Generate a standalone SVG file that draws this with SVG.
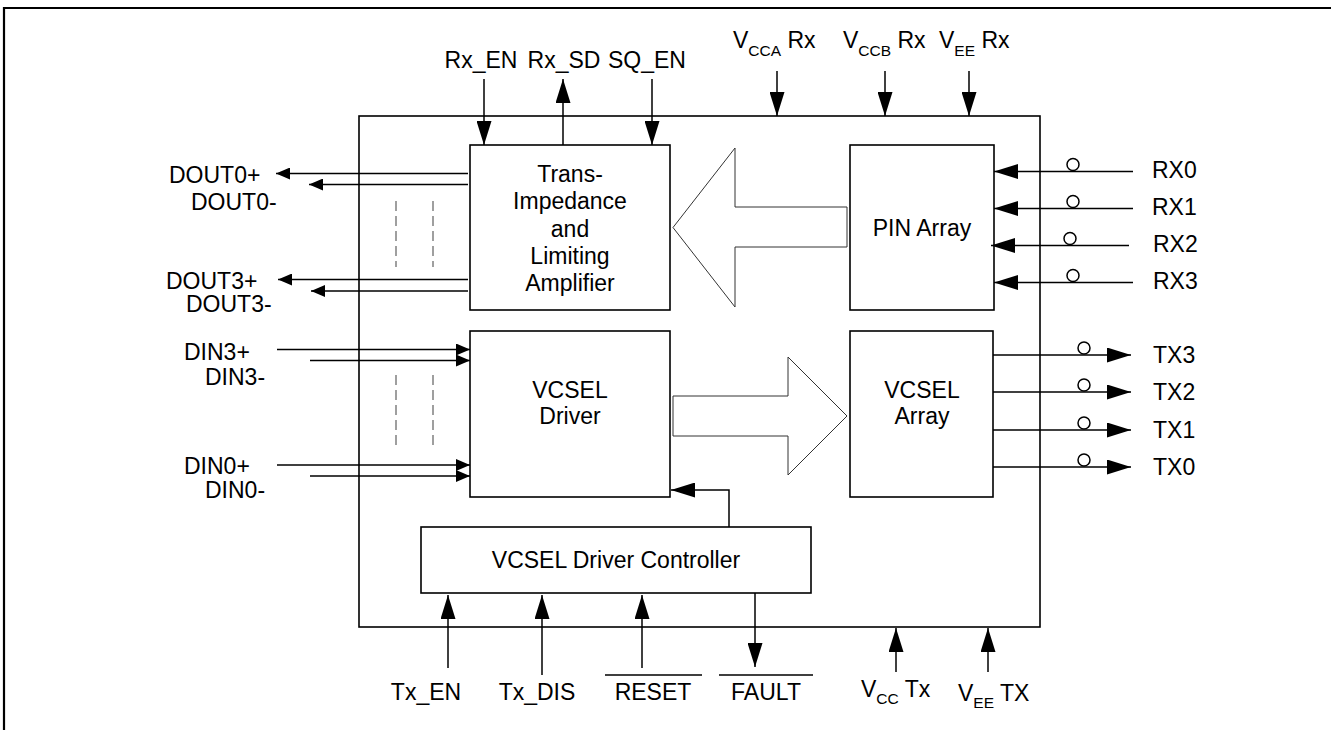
<svg xmlns="http://www.w3.org/2000/svg" width="1331" height="730" viewBox="0 0 1331 730">
<style>
text{font-family:"Liberation Sans",Arial,sans-serif;font-size:23px;fill:#000}
.box{fill:#fff;stroke:#000;stroke-width:1.6}
.ln{stroke:#000;stroke-width:1.5;fill:none}
.big{marker-end:url(#ah)}
.sm{marker-end:url(#as)}
.dash{stroke:#808080;stroke-width:1.5;stroke-dasharray:10 5;fill:none}
.hollow{fill:#fff;stroke:#333;stroke-width:1}
.circ{fill:#fff;stroke:#000;stroke-width:1.5}
.sub{font-size:15.5px}
.c{text-anchor:middle}
</style>
<defs>
<marker id="ah" markerWidth="24" markerHeight="15" refX="24" refY="7.5" orient="auto" markerUnits="userSpaceOnUse"><path d="M0,0 L24,7.5 L0,15 Z" fill="#000"/></marker>
<marker id="as" markerWidth="14" markerHeight="12" refX="14" refY="6" orient="auto" markerUnits="userSpaceOnUse"><path d="M0,0 L14,6 L0,12 Z" fill="#000"/></marker>
</defs>
<rect width="1331" height="730" fill="#fff"/>
<path d="M4,730 V8 H1331" fill="none" stroke="#000" stroke-width="2.2"/>

<g id="chip"><rect class="box" x="359" y="116" width="681" height="511"/></g>

<g id="tia">
<rect class="box" x="470" y="145" width="200" height="165"/>
<text class="c" x="570" y="182">Trans-</text>
<text class="c" x="570" y="209">Impedance</text>
<text class="c" x="570" y="237">and</text>
<text class="c" x="570" y="264">Limiting</text>
<text class="c" x="570" y="291">Amplifier</text>
</g>
<g id="pin">
<rect class="box" x="850" y="145" width="144" height="165"/>
<text class="c" x="922" y="236">PIN Array</text>
</g>
<g id="driver">
<rect class="box" x="470" y="331" width="200" height="166"/>
<text class="c" x="570" y="398">VCSEL</text>
<text class="c" x="570" y="424">Driver</text>
</g>
<g id="varray">
<rect class="box" x="850" y="331" width="143" height="166"/>
<text class="c" x="922" y="398">VCSEL</text>
<text class="c" x="922" y="424">Array</text>
</g>
<g id="controller">
<rect class="box" x="421" y="527" width="390" height="66"/>
<text class="c" x="616" y="568">VCSEL Driver Controller</text>
</g>

<g id="connectors">
<path class="hollow" d="M847,207 H735 V148 L673,227.5 L735,307 V247 H847 Z"/>
<path class="hollow" d="M673,396 H788 V357 L847,416 L788,475 V436 H673 Z"/>
<path class="ln big" d="M484,79 V145"/>
<path class="ln big" d="M563,145 V79"/>
<path class="ln big" d="M652,79 V145"/>
<path class="ln big" d="M777,71 V116"/>
<path class="ln big" d="M885,71 V116"/>
<path class="ln big" d="M969,71 V116"/>
<path class="ln sm" d="M468,173.5 H276"/>
<path class="ln sm" d="M468,184.5 H309"/>
<path class="ln sm" d="M468,279.5 H278"/>
<path class="ln sm" d="M468,291 H311"/>
<path class="ln sm" d="M277,349.5 H470"/>
<path class="ln sm" d="M310,360.5 H470"/>
<path class="ln sm" d="M277,465 H470"/>
<path class="ln sm" d="M310,476 H470"/>
<path class="dash" d="M396,201 V267 M433,201 V267 M396,375 V448 M433,375 V448"/>
<path class="ln big" d="M1133,171.5 H994"/>
<path class="ln big" d="M1133,208.5 H994"/>
<path class="ln big" d="M1129,245.5 H991"/>
<path class="ln big" d="M1133,282.5 H994"/>
<circle class="circ" cx="1073" cy="164.5" r="6"/>
<circle class="circ" cx="1073" cy="201.5" r="6"/>
<circle class="circ" cx="1070" cy="238.5" r="6"/>
<circle class="circ" cx="1073" cy="275.5" r="6"/>
<path class="ln big" d="M993,355 H1131"/>
<path class="ln big" d="M993,392 H1131"/>
<path class="ln big" d="M993,430 H1131"/>
<path class="ln big" d="M993,467 H1131"/>
<circle class="circ" cx="1084" cy="348" r="6"/>
<circle class="circ" cx="1084" cy="385" r="6"/>
<circle class="circ" cx="1084" cy="423" r="6"/>
<circle class="circ" cx="1084" cy="460" r="6"/>
<path class="ln big" d="M729,527 V490 H671"/>
<path class="ln big" d="M448,668 V595"/>
<path class="ln big" d="M542,675 V595"/>
<path class="ln big" d="M642,668 V595"/>
<path class="ln big" d="M755,593 V667"/>
<path class="ln big" d="M896,672 V628"/>
<path class="ln big" d="M988,672 V628"/>
<path class="ln" d="M605,675 H702 M719,675 H813"/>
</g>

<g id="labels">
<text class="c" x="481" y="68">Rx_EN</text>
<text class="c" x="564" y="68">Rx_SD</text>
<text class="c" x="647" y="68">SQ_EN</text>
<text x="733" y="48">V<tspan class="sub" dy="8">CCA</tspan><tspan dy="-8"> Rx</tspan></text>
<text x="843" y="48">V<tspan class="sub" dy="8">CCB</tspan><tspan dy="-8"> Rx</tspan></text>
<text x="939" y="48">V<tspan class="sub" dy="8">EE</tspan><tspan dy="-8"> Rx</tspan></text>
<text x="169" y="183">DOUT0+</text>
<text x="191" y="210">DOUT0-</text>
<text x="166" y="289">DOUT3+</text>
<text x="186" y="312">DOUT3-</text>
<text x="184" y="360">DIN3+</text>
<text x="205" y="385">DIN3-</text>
<text x="184" y="474">DIN0+</text>
<text x="205" y="498">DIN0-</text>
<text x="1152" y="178">RX0</text>
<text x="1152" y="215">RX1</text>
<text x="1153" y="252">RX2</text>
<text x="1153" y="289">RX3</text>
<text x="1153" y="363">TX3</text>
<text x="1153" y="400">TX2</text>
<text x="1153" y="438">TX1</text>
<text x="1153" y="475">TX0</text>
<text class="c" x="426" y="700">Tx_EN</text>
<text class="c" x="537" y="700">Tx_DIS</text>
<text class="c" x="653" y="700">RESET</text>
<text class="c" x="766" y="700">FAULT</text>
<text x="861" y="697">V<tspan class="sub" dy="7">CC</tspan><tspan dy="-7"> Tx</tspan></text>
<text x="958" y="701">V<tspan class="sub" dy="7">EE</tspan><tspan dy="-7"> TX</tspan></text>
</g>
</svg>
